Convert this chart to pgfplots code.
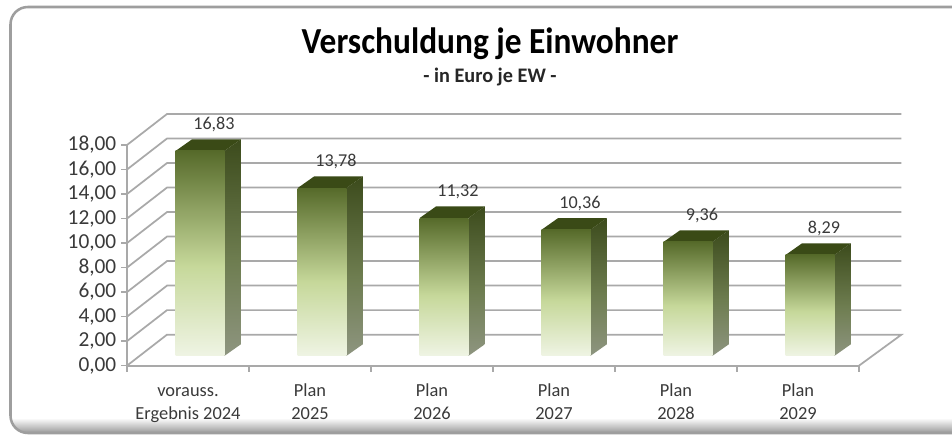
\documentclass[border=0pt]{standalone}
\usepackage{graphicx}
\usepackage{pgfplots}
\pgfplotsset{compat=1.18}
\usepackage{fontspec}
\setmainfont{Carlito}
\definecolor{axisgrey}{HTML}{A9A9A9}
\definecolor{txt}{HTML}{3A3A3A}
\definecolor{ftop}{HTML}{566A2A}
\definecolor{fmid}{HTML}{C6D89A}
\definecolor{fbot}{HTML}{EFF4E4}
\definecolor{stop}{HTML}{3C4B1C}
\definecolor{smid}{HTML}{6E7D50}
\definecolor{sbot}{HTML}{8E9580}
\definecolor{ttop}{HTML}{3A4A16}
\pgfdeclareverticalshading{barfront}{100bp}{color(0bp)=(fbot); color(25bp)=(fbot); color(47bp)=(fmid); color(75bp)=(ftop); color(100bp)=(ftop)}
\pgfdeclareverticalshading{barside}{100bp}{color(0bp)=(sbot); color(25bp)=(sbot); color(47bp)=(smid); color(75bp)=(stop); color(100bp)=(stop)}
\pgfplotsset{
  side/.style={shade, shading=barside, draw=none, no markers, forget plot},
  topf/.style={fill=ttop, draw=none, no markers, forget plot},
  front/.style={ybar, bar width=36.5pt, bar shift=0pt, shade, shading=barfront, draw=none, forget plot,
    nodes near coords,
    nodes near coords align={anchor=center},
    every node near coord/.append style={font=\fontsize{13.6}{15}\selectfont,text=txt,xshift=10.5pt,yshift=20pt,
      /pgf/number format/.cd,fixed,fixed zerofill,precision=2,use comma,assume math mode=true}},
}
\begin{document}
\begin{tikzpicture}[x=0.75pt,y=0.75pt]
\useasboundingbox (0,0) rectangle (952,435);
\fill[white] (0,0) rectangle (952,435);
\begin{scope}
\clip (0,0) rectangle (952,435);
\begin{scope}
\clip[rounded corners=13pt] (10.5,2) rectangle (975,428);
\shade[bottom color=black!40, top color=white] (0,2) rectangle (975,17);
\end{scope}
\draw[black!38,line width=1.9pt,rounded corners=13pt] (10.5,2) rectangle (975,428);
\end{scope}
\node[font=\bfseries\fontsize{27.5}{30}\selectfont,text=black] at (490,391) {\scalebox{0.91}[1]{Verschuldung je Einwohner}};
\node[font=\bfseries\fontsize{15.5}{17}\selectfont,text=black!85] at (490,358) {\scalebox{0.98}[1]{- in Euro je EW -}};
\begin{axis}[
  at={(95.25pt,52pt)}, anchor=south west,
  scale only axis, width=549pt, height=165.5pt,
  xmin=0, xmax=6, ymin=0, ymax=18,
  clip=false,
  axis x line*=bottom, axis y line*=left,
  axis line style={axisgrey,line width=1.3pt,-},
  xtick={0,1,2,3,4,5,6},
  x tick label as interval,
  xticklabels={{\strut vorauss.\\Ergebnis 2024},{\strut Plan\\2025},{\strut Plan\\2026},{\strut Plan\\2027},{\strut Plan\\2028},{\strut Plan\\2029}},
  xticklabel style={align=center,font=\fontsize{13.8}{17.3}\selectfont,text=txt,yshift=-3pt},
  ytick={0,2,4,6,8,10,12,14,16,18},
  yticklabel style={font=\fontsize{16}{18}\selectfont,text=txt,
    /pgf/number format/.cd,fixed,fixed zerofill,precision=2,use comma,1000 sep={},assume math mode=true},
  tick align=outside,
  tick style={axisgrey,line width=1pt},
  major tick length=4.5pt,
]
\addplot[axisgrey,line width=1.3pt,no markers,forget plot,unbounded coords=jump] coordinates {
 (0,18)(0.328,20.53)(6.348,20.53) (nan,nan)
 (0,16)(0.328,18.53)(6.348,18.53) (nan,nan)
 (0,14)(0.328,16.53)(6.348,16.53) (nan,nan)
 (0,12)(0.328,14.53)(6.348,14.53) (nan,nan)
 (0,10)(0.328,12.53)(6.348,12.53) (nan,nan)
 (0,8)(0.328,10.53)(6.348,10.53) (nan,nan)
 (0,6)(0.328,8.53)(6.348,8.53) (nan,nan)
 (0,4)(0.328,6.53)(6.348,6.53) (nan,nan)
 (0,2)(0.328,4.53)(6.348,4.53) (nan,nan)
 (0,0)(0.328,2.53)(6.348,2.53)(6,0)
};
\end{axis}
\begin{axis}[
  at={(95.25pt,52pt)}, anchor=south west,
  scale only axis, width=549pt, height=165.5pt,
  xmin=-0.598, xmax=5.402, ymin=-0.8, ymax=17.32,
  clip=false, hide axis,
]
% side faces
\addplot[side] coordinates {(0.2,0)(0.335,0.955)(0.335,17.785)(0.2,16.83)} --cycle;
\addplot[side] coordinates {(1.2,0)(1.335,0.955)(1.335,14.735)(1.2,13.78)} --cycle;
\addplot[side] coordinates {(2.2,0)(2.335,0.955)(2.335,12.275)(2.2,11.32)} --cycle;
\addplot[side] coordinates {(3.2,0)(3.335,0.955)(3.335,11.315)(3.2,10.36)} --cycle;
\addplot[side] coordinates {(4.2,0)(4.335,0.955)(4.335,10.315)(4.2,9.36)} --cycle;
\addplot[side] coordinates {(5.2,0)(5.335,0.955)(5.335,9.245)(5.2,8.29)} --cycle;
% top faces
\addplot[topf] coordinates {(-0.2,16.83)(-0.065,17.785)(0.335,17.785)(0.2,16.83)} --cycle;
\addplot[topf] coordinates {(0.8,13.78)(0.935,14.735)(1.335,14.735)(1.2,13.78)} --cycle;
\addplot[topf] coordinates {(1.8,11.32)(1.935,12.275)(2.335,12.275)(2.2,11.32)} --cycle;
\addplot[topf] coordinates {(2.8,10.36)(2.935,11.315)(3.335,11.315)(3.2,10.36)} --cycle;
\addplot[topf] coordinates {(3.8,9.36)(3.935,10.315)(4.335,10.315)(4.2,9.36)} --cycle;
\addplot[topf] coordinates {(4.8,8.29)(4.935,9.245)(5.335,9.245)(5.2,8.29)} --cycle;
% front faces
\addplot[front] coordinates {(0,16.83)};
\addplot[front] coordinates {(1,13.78)};
\addplot[front] coordinates {(2,11.32)};
\addplot[front] coordinates {(3,10.36)};
\addplot[front] coordinates {(4,9.36)};
\addplot[front] coordinates {(5,8.29)};
\end{axis}
\end{tikzpicture}
\end{document}
